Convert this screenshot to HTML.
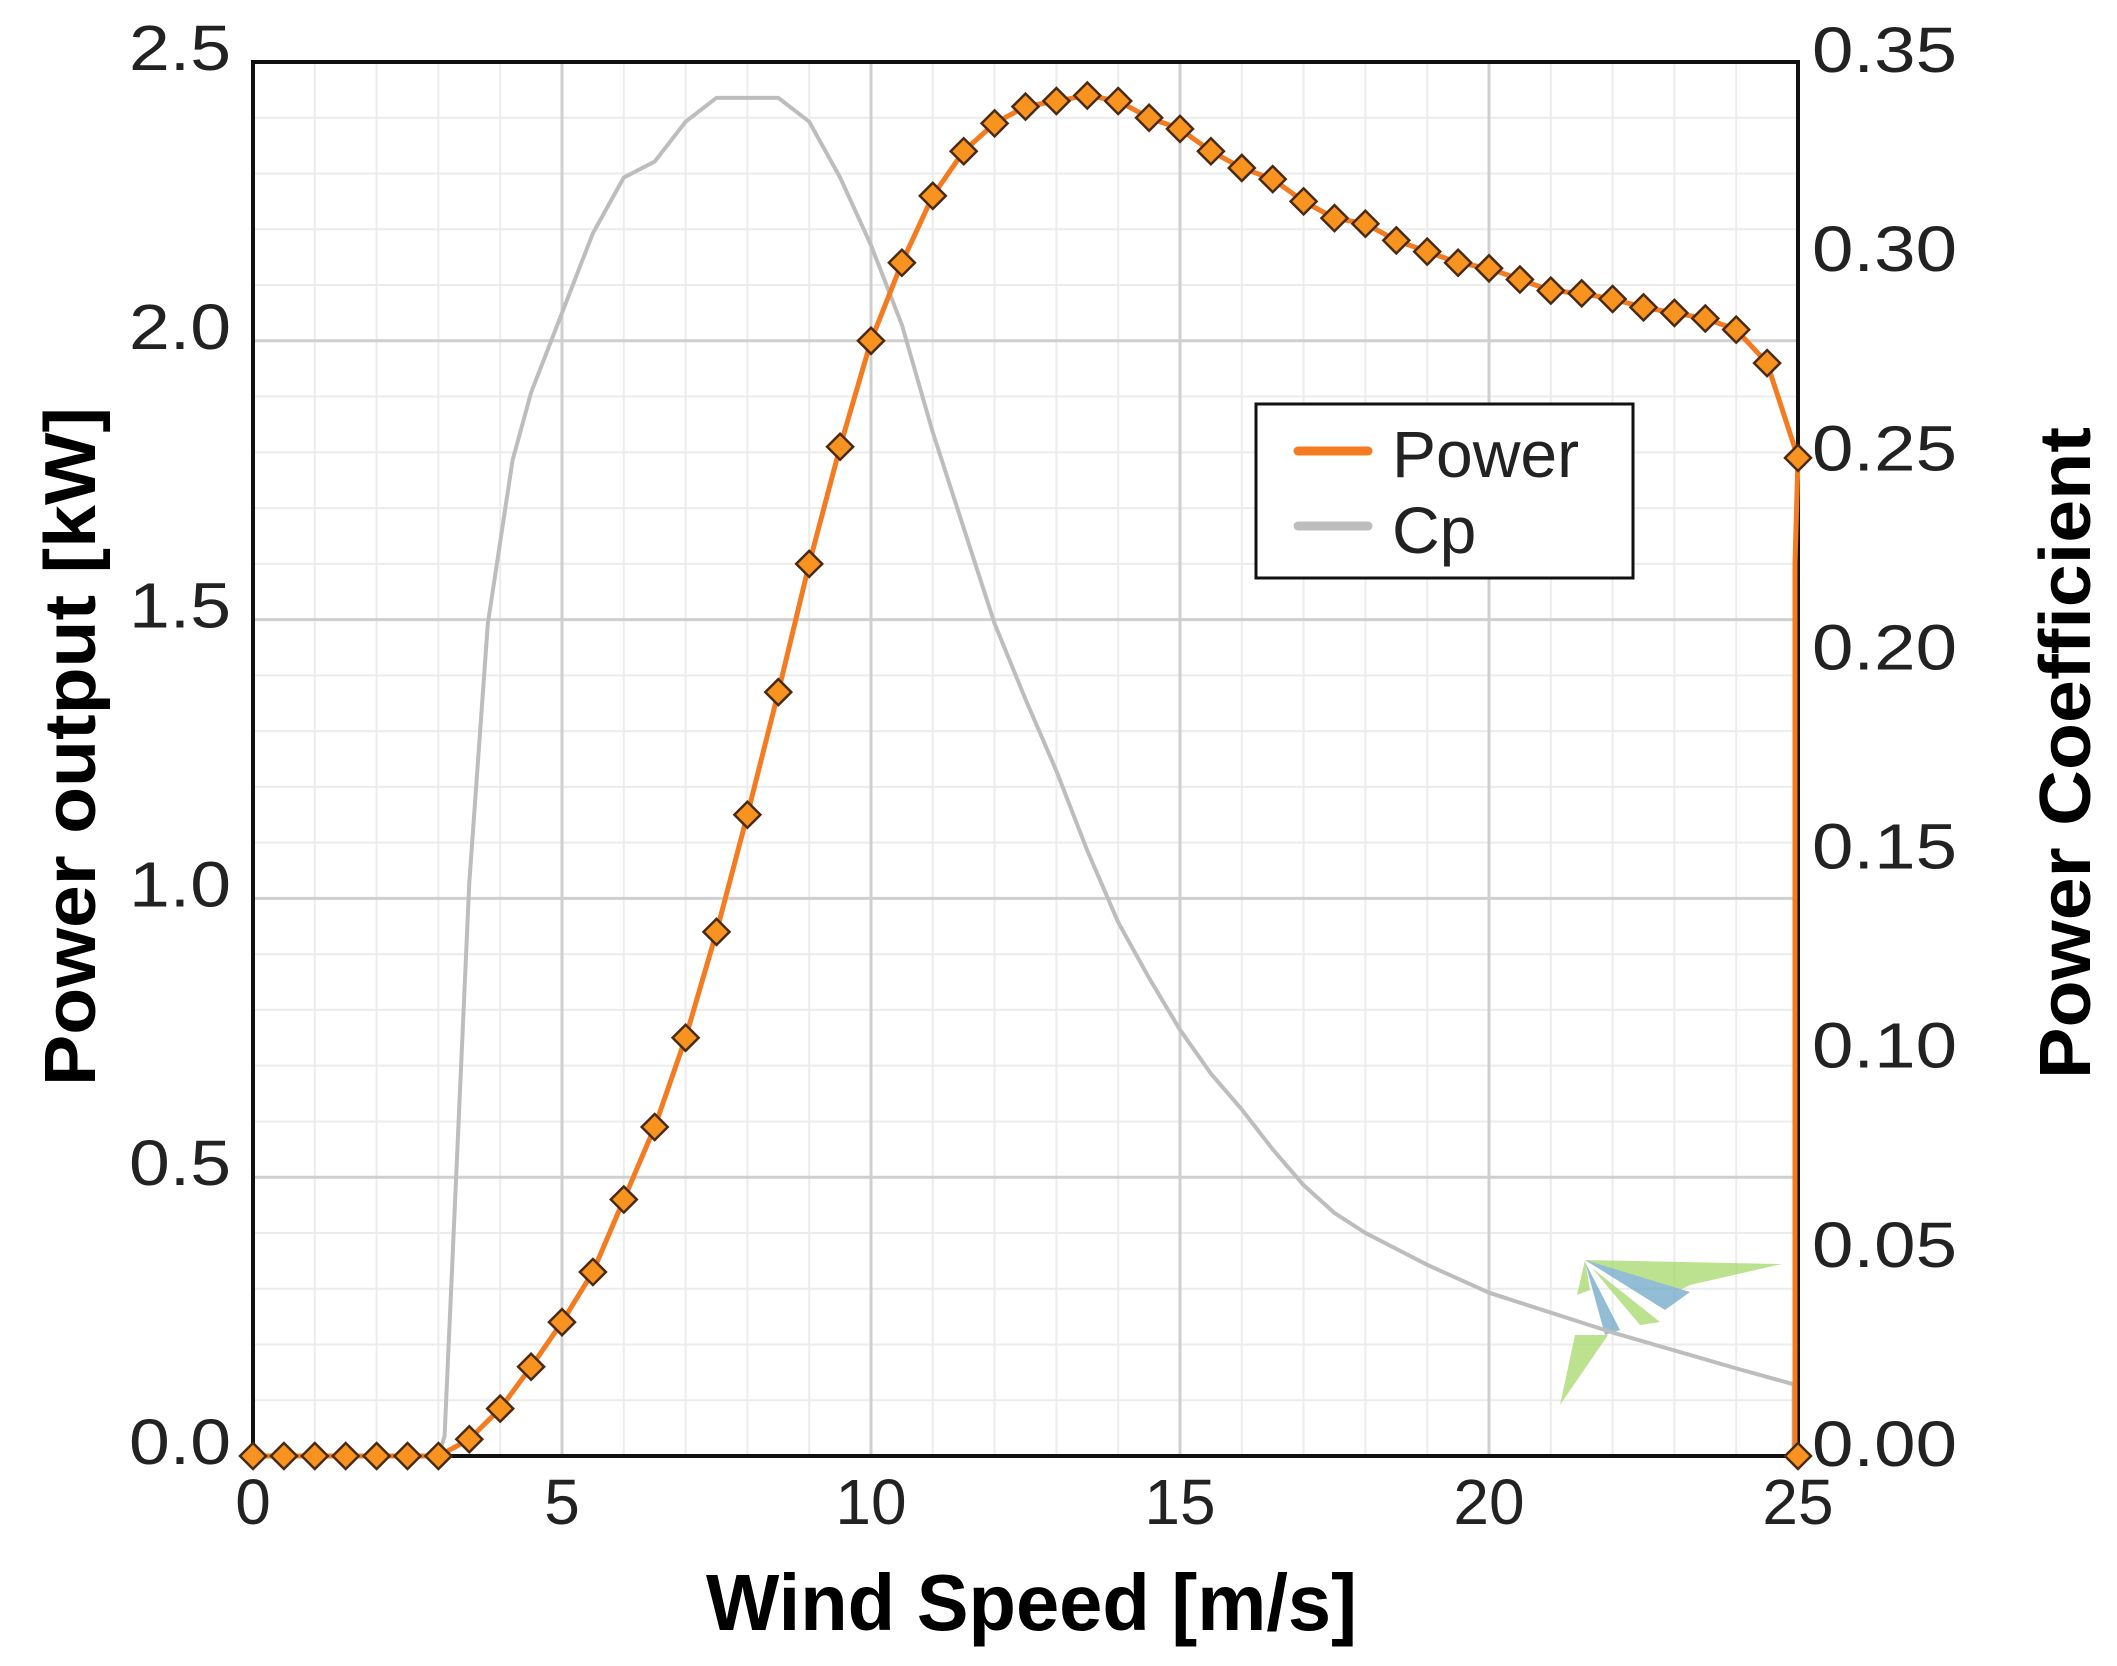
<!DOCTYPE html>
<html><head><meta charset="utf-8"><style>
html,body{margin:0;padding:0;background:#fff}
svg{display:block}
</style></head><body>
<svg id="s" width="2117" height="1666" viewBox="0 0 2117 1666" xmlns="http://www.w3.org/2000/svg">
<rect width="2117" height="1666" fill="#fff"/>
<g id="grid"></g>
<g opacity="0.75">
<polygon points="1585,1260 1782,1264 1690,1285 1660,1300" fill="#a6d96a"/>
<polygon points="1585,1260 1690,1292 1665,1310" fill="#6fa6c8"/>
<polygon points="1585,1262 1605,1335 1620,1330" fill="#6fa6c8"/>
<polygon points="1592,1268 1660,1322 1640,1325" fill="#a6d96a"/>
<polygon points="1608,1335 1560,1405 1575,1335" fill="#a6d96a"/>
<polygon points="1585,1260 1577,1295 1590,1290" fill="#a6d96a"/>
</g>
<rect x="253" y="62" width="1545" height="1394" fill="none" stroke="#111" stroke-width="4"/>
<polyline id="cp" fill="none" stroke="#bdbdbd" stroke-width="4" stroke-linejoin="round"/>
<polyline id="pw" fill="none" stroke="#f47b20" stroke-width="5" stroke-linejoin="round"/>
<g id="mk"></g>
<g id="lab" font-family="Liberation Sans, sans-serif" font-size="64" fill="#222"></g>
<rect x="1256" y="404" width="377" height="174" fill="#fff" stroke="#111" stroke-width="3"/>
<line x1="1298" y1="451" x2="1368" y2="451" stroke="#f47b20" stroke-width="9" stroke-linecap="round"/>
<line x1="1298" y1="526" x2="1368" y2="526" stroke="#bdbdbd" stroke-width="9" stroke-linecap="round"/>
<text x="1392" y="477" font-family="Liberation Sans, sans-serif" font-size="66" fill="#222">Power</text>
<text x="1392" y="553" font-family="Liberation Sans, sans-serif" font-size="66" fill="#222">Cp</text>
<text x="706" y="1630" font-family="Liberation Sans, sans-serif" font-weight="bold" font-size="80" fill="#000" textLength="651" lengthAdjust="spacingAndGlyphs">Wind Speed [m/s]</text>
<text transform="translate(95,1086) rotate(-90)" font-family="Liberation Sans, sans-serif" font-weight="bold" font-size="72" fill="#000" textLength="679" lengthAdjust="spacingAndGlyphs">Power output [kW]</text>
<text transform="translate(2090,1079) rotate(-90)" font-family="Liberation Sans, sans-serif" font-weight="bold" font-size="72" fill="#000" textLength="652" lengthAdjust="spacingAndGlyphs">Power Coefficient</text>
</svg>
<script>
var NS="http://www.w3.org/2000/svg";
function X(x){return 253+61.8*x}
function YP(p){return 1456-557.6*p}
function YC(c){return 1456-3982.9*c}
function el(t,a,par){var e=document.createElementNS(NS,t);for(var k in a)e.setAttribute(k,a[k]);document.getElementById(par).appendChild(e);return e}
for(var i=0;i<=25;i++){if(i%5)el('line',{x1:X(i),x2:X(i),y1:62,y2:1456,stroke:'#ececec','stroke-width':2},'grid')}
for(var j=0;j<=25;j++){if(j%5)el('line',{x1:253,x2:1798,y1:YP(j/10),y2:YP(j/10),stroke:'#ececec','stroke-width':2},'grid')}
for(var i=5;i<25;i+=5)el('line',{x1:X(i),x2:X(i),y1:62,y2:1456,stroke:'#cfcfcf','stroke-width':3},'grid');
for(var j=1;j<5;j++)el('line',{x1:253,x2:1798,y1:YP(j/2),y2:YP(j/2),stroke:'#cfcfcf','stroke-width':3},'grid');
var cp=[[0,0],[3,0],[3.1,0.005],[3.5,0.144],[3.8,0.209],[4.2,0.25],[4.5,0.267],[5,0.287],[5.5,0.307],[6,0.321],[6.5,0.325],[7,0.335],[7.5,0.341],[8.5,0.341],[9,0.335],[9.5,0.321],[10,0.304],[10.5,0.284],[11,0.257],[11.5,0.233],[12,0.209],[12.5,0.19],[13,0.172],[13.5,0.152],[14,0.134],[14.5,0.12],[15,0.107],[15.5,0.096],[16,0.087],[16.5,0.077],[17,0.068],[17.5,0.061],[18,0.056],[19,0.048],[20,0.041],[21,0.036],[22,0.031],[23,0.0265],[24,0.022],[24.93,0.018],[24.93,0]];
document.getElementById('cp').setAttribute('points',cp.map(function(p){return X(p[0])+','+YC(p[1])}).join(' '));
var pv=[0,0,0,0,0,0,0,0.03,0.085,0.16,0.24,0.33,0.46,0.59,0.75,0.94,1.15,1.37,1.6,1.81,2.0,2.14,2.26,2.34,2.39,2.42,2.43,2.44,2.43,2.40,2.38,2.34,2.31,2.29,2.25,2.22,2.21,2.18,2.16,2.14,2.13,2.11,2.09,2.085,2.075,2.06,2.05,2.04,2.02,1.96,1.79];
var pts=pv.map(function(v,k){return [k/2,v]});
var lp=pts.map(function(p){return X(p[0])+','+YP(p[1])});
lp.push('1795,'+YP(1.6));lp.push('1795,1456');
document.getElementById('pw').setAttribute('points',lp.join(' '));
pts.push([25,0]);
pts.forEach(function(p){var x=X(p[0]),y=YP(p[1]),r=13;el('polygon',{points:(x)+','+(y-r)+' '+(x+r)+','+y+' '+x+','+(y+r)+' '+(x-r)+','+y,fill:'#f7931e',stroke:'#4a2a10','stroke-width':2.5},'mk')});
var L=['0.0','0.5','1.0','1.5','2.0','2.5'];
L.forEach(function(t,j){var e=el('text',{x:129,y:YP(j/2)+8,textLength:102,lengthAdjust:'spacingAndGlyphs'},'lab');e.textContent=t});
var R=['0.00','0.05','0.10','0.15','0.20','0.25','0.30','0.35'];
R.forEach(function(t,j){var e=el('text',{x:1812,y:YC(j*0.05)+10,textLength:145,lengthAdjust:'spacingAndGlyphs'},'lab');e.textContent=t});
[0,5,10,15,20,25].forEach(function(v){var e=el('text',{x:X(v),y:1524,'text-anchor':'middle'},'lab');e.textContent=v});
</script>
</body></html>
